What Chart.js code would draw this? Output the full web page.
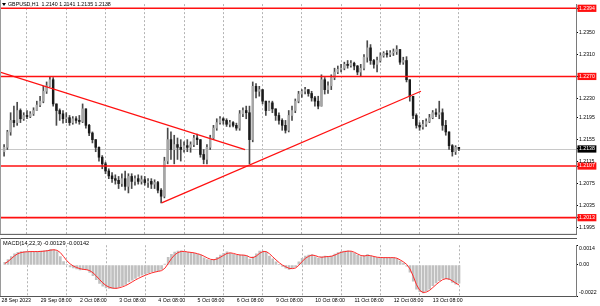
<!DOCTYPE html>
<html><head><meta charset="utf-8">
<script src="https://cdn.jsdelivr.net/npm/chart.js@4.4.0/dist/chart.umd.min.js"></script>
<style>
html,body{margin:0;padding:0;background:#fff;}
#wrap{position:relative;width:600px;height:306px;overflow:hidden;background:#fff;}
canvas{position:absolute;left:0;}
#main{top:0;}
#macd{top:238px;}
</style></head><body>
<div id="wrap"><canvas id="main" width="600" height="238"></canvas><canvas id="macd" width="600" height="68"></canvas></div>
<script>
// ---------- data ----------
const symbolTitle = 'GBPUSD,H1  1.2140 1.2141 1.2135 1.2138';
const macdTitle = 'MACD(14,22,3) -0.00129 -0.00142';
const firstBarHour = -14;   // trading hours since 29 Sep 00:00 (centre of first 2h bar)
const barStepHours = 2;

const opens = [1.2133,1.2141,1.2169,1.2190,1.2186,1.2208,1.2193,1.2199,1.2197,1.2202,
1.2208,1.2218,1.2225,1.2243,1.2253,1.2264,1.2220,1.2208,1.2202,1.2193,
1.2195,1.2186,1.2193,1.2190,1.2188,1.2211,1.2181,1.2167,1.2155,1.2141,
1.2123,1.2111,1.2098,1.2089,1.2084,1.2081,1.2075,1.2084,1.2070,1.2088,
1.2079,1.2084,1.2079,1.2082,1.2077,1.2079,1.2074,1.2077,1.2063,1.2052,
1.2116,1.2155,1.2137,1.2146,1.2141,1.2137,1.2144,1.2141,1.2146,1.2158,
1.2155,1.2128,1.2119,1.2141,1.2158,1.2176,1.2186,1.2193,1.2190,1.2183,
1.2186,1.2181,1.2176,1.2202,1.2208,1.2204,1.2155,1.2252,1.2243,1.2246,
1.2225,1.2208,1.2222,1.2211,1.2199,1.2190,1.2181,1.2172,1.2199,1.2208,
1.2225,1.2238,1.2243,1.2246,1.2239,1.2231,1.2225,1.2216,1.2264,1.2246,
1.2253,1.2268,1.2278,1.2283,1.2285,1.2292,1.2290,1.2294,1.2289,1.2278,
1.2285,1.2305,1.2322,1.2299,1.2292,1.2299,1.2308,1.2312,1.2310,1.2313,
1.2315,1.2319,1.2296,1.2299,1.2264,1.2234,1.2199,1.2181,1.2178,1.2183,
1.2188,1.2195,1.2204,1.2201,1.2204,1.2181,1.2169,1.2144,1.2133,1.2141];

const highs = [1.2146,1.2172,1.2204,1.2216,1.2223,1.2211,1.2204,1.2208,1.2206,1.2213,
1.2225,1.2234,1.2252,1.2260,1.2269,1.2268,1.2220,1.2211,1.2208,1.2204,
1.2199,1.2197,1.2197,1.2199,1.2220,1.2211,1.2183,1.2169,1.2155,1.2142,
1.2126,1.2114,1.2102,1.2095,1.2091,1.2088,1.2093,1.2098,1.2093,1.2093,
1.2089,1.2091,1.2089,1.2088,1.2084,1.2084,1.2082,1.2079,1.2066,1.2123,
1.2176,1.2169,1.2163,1.2158,1.2155,1.2151,1.2155,1.2151,1.2163,1.2165,
1.2155,1.2137,1.2146,1.2163,1.2181,1.2193,1.2197,1.2195,1.2193,1.2190,
1.2188,1.2185,1.2208,1.2213,1.2216,1.2216,1.2260,1.2257,1.2252,1.2246,
1.2225,1.2225,1.2225,1.2211,1.2204,1.2193,1.2190,1.2208,1.2216,1.2229,
1.2243,1.2246,1.2250,1.2246,1.2243,1.2234,1.2234,1.2273,1.2268,1.2260,
1.2273,1.2285,1.2289,1.2292,1.2296,1.2299,1.2299,1.2296,1.2290,1.2292,
1.2310,1.2335,1.2328,1.2301,1.2305,1.2313,1.2315,1.2317,1.2317,1.2320,
1.2326,1.2319,1.2305,1.2306,1.2264,1.2234,1.2202,1.2186,1.2190,1.2193,
1.2201,1.2208,1.2211,1.2225,1.2211,1.2190,1.2169,1.2146,1.2144,1.2141];

const lows = [1.2125,1.2137,1.2163,1.2178,1.2181,1.2186,1.2190,1.2193,1.2195,1.2199,
1.2208,1.2215,1.2222,1.2239,1.2252,1.2216,1.2181,1.2190,1.2185,1.2186,
1.2181,1.2183,1.2185,1.2183,1.2186,1.2176,1.2162,1.2149,1.2133,1.2116,
1.2102,1.2093,1.2084,1.2077,1.2074,1.2066,1.2070,1.2063,1.2058,1.2066,
1.2072,1.2074,1.2074,1.2072,1.2068,1.2066,1.2066,1.2058,1.2040,1.2049,
1.2111,1.2119,1.2111,1.2119,1.2116,1.2132,1.2133,1.2132,1.2142,1.2146,
1.2123,1.2111,1.2111,1.2137,1.2155,1.2172,1.2183,1.2183,1.2179,1.2178,
1.2178,1.2172,1.2172,1.2197,1.2193,1.2111,1.2151,1.2231,1.2234,1.2220,
1.2199,1.2208,1.2204,1.2190,1.2183,1.2172,1.2167,1.2169,1.2190,1.2204,
1.2222,1.2232,1.2238,1.2234,1.2225,1.2216,1.2211,1.2216,1.2238,1.2239,
1.2246,1.2264,1.2275,1.2278,1.2282,1.2285,1.2287,1.2282,1.2273,1.2271,
1.2282,1.2296,1.2292,1.2285,1.2278,1.2296,1.2305,1.2305,1.2306,1.2308,
1.2310,1.2292,1.2292,1.2260,1.2225,1.2193,1.2176,1.2172,1.2174,1.2179,
1.2186,1.2193,1.2197,1.2193,1.2172,1.2163,1.2137,1.2125,1.2128,1.2135];

const closes = [1.2141,1.2169,1.2190,1.2186,1.2208,1.2193,1.2199,1.2197,1.2202,1.2208,
1.2218,1.2225,1.2243,1.2253,1.2264,1.2220,1.2208,1.2202,1.2193,1.2195,
1.2186,1.2193,1.2190,1.2188,1.2211,1.2181,1.2167,1.2155,1.2141,1.2123,
1.2111,1.2098,1.2089,1.2084,1.2081,1.2075,1.2084,1.2070,1.2088,1.2079,
1.2084,1.2079,1.2082,1.2077,1.2079,1.2074,1.2077,1.2063,1.2052,1.2116,
1.2155,1.2137,1.2146,1.2141,1.2137,1.2144,1.2141,1.2146,1.2158,1.2155,
1.2128,1.2119,1.2141,1.2158,1.2176,1.2186,1.2193,1.2190,1.2183,1.2186,
1.2181,1.2176,1.2202,1.2208,1.2204,1.2155,1.2252,1.2243,1.2246,1.2225,
1.2208,1.2222,1.2211,1.2199,1.2190,1.2181,1.2172,1.2199,1.2208,1.2225,
1.2238,1.2243,1.2246,1.2239,1.2231,1.2225,1.2216,1.2264,1.2246,1.2253,
1.2268,1.2278,1.2283,1.2285,1.2292,1.2290,1.2294,1.2289,1.2278,1.2285,
1.2305,1.2322,1.2299,1.2292,1.2299,1.2308,1.2312,1.2310,1.2313,1.2315,
1.2319,1.2296,1.2299,1.2264,1.2234,1.2199,1.2181,1.2178,1.2183,1.2188,
1.2195,1.2204,1.2201,1.2204,1.2181,1.2169,1.2144,1.2133,1.2141,1.2138];

const macdMain = [0.00019,0.00038,0.00060,0.00079,0.00090,0.00095,0.00095,0.00095,0.00095,0.00095,
0.00096,0.00098,0.00101,0.00104,0.00111,0.00109,0.00095,0.00060,0.00025,0.00003,
-0.00013,-0.00020,-0.00028,-0.00035,-0.00033,-0.00035,-0.00052,-0.00076,-0.00104,-0.00130,
-0.00150,-0.00163,-0.00166,-0.00166,-0.00166,-0.00155,-0.00147,-0.00137,-0.00121,-0.00107,
-0.00095,-0.00082,-0.00073,-0.00063,-0.00056,-0.00049,-0.00046,-0.00042,-0.00032,0.00006,
0.00054,0.00076,0.00092,0.00098,0.00101,0.00092,0.00089,0.00088,0.00082,0.00076,
0.00068,0.00051,0.00038,0.00033,0.00038,0.00054,0.00070,0.00082,0.00094,0.00085,
0.00076,0.00070,0.00070,0.00070,0.00063,0.00041,0.00057,0.00079,0.00098,0.00099,
0.00092,0.00063,0.00044,0.00022,0.00003,-0.00011,-0.00022,-0.00032,-0.00023,-0.00014,
0.00022,0.00047,0.00063,0.00070,0.00073,0.00060,0.00049,0.00057,0.00064,0.00061,
0.00063,0.00078,0.00088,0.00095,0.00098,0.00101,0.00095,0.00083,0.00070,0.00060,
0.00066,0.00073,0.00063,0.00056,0.00052,0.00052,0.00052,0.00052,0.00052,0.00052,
0.00044,0.00028,0.00013,-0.00009,-0.00051,-0.00114,-0.00171,-0.00190,-0.00199,-0.00184,
-0.00171,-0.00146,-0.00127,-0.00111,-0.00095,-0.00097,-0.00104,-0.00123,-0.00136,-0.00129];

const macdSignal = [0.00010,0.00025,0.00045,0.00065,0.00080,0.00088,0.00092,0.00094,0.00095,0.00095,
0.00095,0.00096,0.00098,0.00101,0.00105,0.00108,0.00104,0.00088,0.00060,0.00030,
0.00008,-0.00008,-0.00018,-0.00026,-0.00031,-0.00033,-0.00040,-0.00055,-0.00078,-0.00103,
-0.00127,-0.00146,-0.00158,-0.00164,-0.00166,-0.00162,-0.00155,-0.00146,-0.00134,-0.00120,
-0.00106,-0.00094,-0.00083,-0.00073,-0.00064,-0.00056,-0.00050,-0.00045,-0.00040,-0.00023,
0.00010,0.00045,0.00072,0.00088,0.00096,0.00096,0.00092,0.00089,0.00086,0.00080,
0.00073,0.00062,0.00050,0.00040,0.00037,0.00043,0.00055,0.00069,0.00082,0.00086,
0.00082,0.00075,0.00071,0.00070,0.00067,0.00055,0.00052,0.00064,0.00083,0.00095,
0.00095,0.00080,0.00058,0.00036,0.00016,-0.00001,-0.00013,-0.00024,-0.00026,-0.00021,
-0.00002,0.00025,0.00047,0.00062,0.00070,0.00067,0.00058,0.00055,0.00058,0.00060,
0.00062,0.00070,0.00081,0.00090,0.00095,0.00098,0.00098,0.00090,0.00078,0.00067,
0.00064,0.00068,0.00066,0.00060,0.00055,0.00053,0.00052,0.00052,0.00052,0.00052,
0.00048,0.00036,0.00022,0.00004,-0.00028,-0.00080,-0.00140,-0.00180,-0.00195,-0.00192,
-0.00180,-0.00160,-0.00139,-0.00120,-0.00104,-0.00097,-0.00100,-0.00113,-0.00128,-0.00142];

const priceTicks = [1.1995,1.2013,1.2035,1.2075,1.2107,1.2115,1.2138,1.2155,1.2195,1.2230,1.2270,1.2310,1.2350,1.2394];
const levelPrices = [1.2394,1.2270,1.2107,1.2013];
const currentPrice = 1.2138;
const macdTicks = [-0.0022,0,0.0014];
const macdTickLabels = ['-0.0022','0.00','0.0014'];

const timeTickHours = [-16,8,32,56,80,104,128,152,176,200,224,248];
const timeTickLabels = ['28 Sep 2023','29 Sep 08:00','2 Oct 08:00','3 Oct 08:00','4 Oct 08:00','5 Oct 08:00',
  '6 Oct 08:00','9 Oct 08:00','10 Oct 08:00','11 Oct 08:00','12 Oct 08:00','13 Oct 08:00'];
const dayStartHours = [0,24,48,72,96,120,144,168,192,216,240,264];

const trendDown = [{x:-16.5,y:1.2278},{x:133.3,y:1.2137}];
const trendUp = [{x:82.3,y:1.2040},{x:240.8,y:1.2243}];

// ---------- config ----------
const hourMin = -16.5, hourMax = 335.6;
const priceMin = 1.19835, priceMax = 1.24016;
const macdMin = -0.0022, macdMax = 0.0014;
const FONT = {family:'"Liberation Sans", Arial, sans-serif', size:5.2};
Chart.defaults.font.family = FONT.family;
Chart.defaults.font.size = FONT.size;
Chart.defaults.color = '#000';

const hours = opens.map((_, i) => firstBarHour + barStepHours * i);
const wickData = hours.map((h, i) => ({x:h, y:[lows[i], highs[i]]}));
const bodyData = hours.map((h, i) => ({x:h, y:[opens[i], closes[i]]}));
const histData = hours.map((h, i) => ({x:h, y:macdMain[i]}));
const signalData = hours.map((h, i) => ({x:h, y:macdSignal[i]}));

function gridAxis() {
  return {type:'linear', position:'bottom', min:hourMin, max:hourMax, offset:false,
    afterBuildTicks: s => { s.ticks = dayStartHours.map(v => ({value:v})); },
    ticks:{display:false},
    grid:{display:true, offset:false, drawTicks:false, color:'#b4b4b4', lineWidth:1},
    border:{display:false, dash:[2,2]}};
}

const mainPlugin = {
  id:'mainDeco',
  beforeDatasetsDraw(chart) {
    const {ctx, chartArea:a, scales:{y}} = chart;
    ctx.save();
    ctx.strokeStyle = '#c8c8c8'; ctx.lineWidth = 1;
    const yy = Math.round(y.getPixelForValue(currentPrice)) + 0.5;
    ctx.beginPath(); ctx.moveTo(a.left, yy); ctx.lineTo(a.right, yy); ctx.stroke();
    ctx.restore();
  },
  afterDatasetsDraw(chart) {
    const {ctx, chartArea:a, scales:{y}} = chart;
    ctx.save();
    ctx.strokeStyle = '#ff1010'; ctx.lineWidth = 1.6;
    levelPrices.forEach(p => {
      const yy = y.getPixelForValue(p);
      ctx.beginPath(); ctx.moveTo(a.left, yy); ctx.lineTo(a.right, yy); ctx.stroke();
    });
    ctx.fillStyle = '#9a9a9a'; ctx.fillRect(0, 0, 1, a.bottom);
    ctx.fillStyle = '#555'; ctx.fillRect(0, a.bottom, a.right + 1, 1);
    ctx.fillStyle = '#000';
    ctx.beginPath(); ctx.moveTo(2, 3); ctx.lineTo(6, 3); ctx.lineTo(4, 6); ctx.closePath(); ctx.fill();
    ctx.font = '5.3px ' + FONT.family; ctx.textBaseline = 'middle'; ctx.textAlign = 'left';
    ctx.fillText(symbolTitle, 8, 4.6);
    ctx.restore();
  }
};

new Chart(document.getElementById('main'), {
  type:'bar',
  data:{datasets:[
    {type:'line', data:trendDown, borderColor:'#ff1010', borderWidth:1.3, pointRadius:0, order:0},
    {type:'line', data:trendUp, borderColor:'#ff1010', borderWidth:1.3, pointRadius:0, order:0},
    {data:bodyData, grouped:false, barThickness:1.8, minBarLength:1, order:1,
      backgroundColor: c => closes[c.dataIndex] >= opens[c.dataIndex] ? '#a6a6a6' : '#1a1a1a'},
    {data:wickData, grouped:false, barThickness:1, order:2, backgroundColor:'#4a4a4a'}
  ]},
  options:{
    responsive:false, animation:false, events:[],
    layout:{autoPadding:false, padding:{top:0, bottom:1, left:0, right:0}},
    plugins:{legend:{display:false}, tooltip:{enabled:false}},
    scales:{
      x:{type:'linear', display:false, min:hourMin, max:hourMax, offset:false, grid:{offset:false}},
      xg:gridAxis(),
      y:{type:'linear', position:'right', min:priceMin, max:priceMax,
        afterFit: s => { s.width = 24; },
        afterBuildTicks: s => { s.ticks = priceTicks.map(v => ({value:v})); },
        grid:{drawOnChartArea:false, drawTicks:true, tickLength:2, color:'#000'},
        border:{display:true, color:'#7a7a7a', width:1},
        ticks:{autoSkip:false, padding:1, font:FONT,
          callback: v => Number(v).toFixed(4),
          color: c => (levelPrices.includes(c.tick.value) || c.tick.value === currentPrice) ? '#fff' : '#000',
          showLabelBackdrop: c => levelPrices.includes(c.tick.value) || c.tick.value === currentPrice,
          backdropColor: c => c.tick.value === currentPrice ? '#000' : '#ff1010',
          backdropPadding:{left:1.5, right:1.5, top:0.5, bottom:0.5}}
      }
    }
  },
  plugins:[mainPlugin]
});

const macdPlugin = {
  id:'macdDeco',
  afterDatasetsDraw(chart) {
    const {ctx, chartArea:a} = chart;
    ctx.save();
    ctx.fillStyle = '#555'; ctx.fillRect(0, 0, a.right + 1, 1);
    ctx.fillStyle = '#9a9a9a'; ctx.fillRect(0, 0, 1, a.bottom);
    ctx.fillStyle = '#000';
    ctx.font = '5.6px ' + FONT.family; ctx.textBaseline = 'middle'; ctx.textAlign = 'left';
    ctx.fillText(macdTitle, 3, 5.3);
    ctx.restore();
  }
};

new Chart(document.getElementById('macd'), {
  type:'bar',
  data:{datasets:[
    {type:'line', data:signalData, borderColor:'#ff2a2a', borderWidth:1, pointRadius:0, order:0},
    {data:histData, grouped:false, barThickness:2, order:1, backgroundColor:'#c0c0c0'}
  ]},
  options:{
    responsive:false, animation:false, events:[],
    layout:{autoPadding:false, padding:{top:1, bottom:0, left:0, right:0}},
    plugins:{legend:{display:false}, tooltip:{enabled:false}},
    scales:{
      x:{type:'linear', position:'bottom', min:hourMin, max:hourMax, offset:false,
        afterFit: s => { s.height = 10; },
        afterBuildTicks: s => { s.ticks = timeTickHours.map(v => ({value:v})); },
        grid:{display:false, drawTicks:false, offset:false},
        border:{display:true, color:'#555', width:1},
        ticks:{autoSkip:false, maxRotation:0, align:'start', padding:1.5, font:FONT,
          callback: (v, i) => timeTickLabels[i]}},
      xg:gridAxis(),
      y:{type:'linear', position:'right', min:macdMin, max:macdMax,
        afterFit: s => { s.width = 24; },
        afterBuildTicks: s => { s.ticks = macdTicks.map(v => ({value:v})); },
        grid:{drawOnChartArea:false, drawTicks:true, tickLength:2, color:'#000'},
        border:{display:true, color:'#7a7a7a', width:1},
        ticks:{autoSkip:false, padding:1, font:FONT,
          callback: (v, i) => i === macdTicks.length - 1 ? ['', macdTickLabels[i]]
                              : (i === 0 ? [macdTickLabels[i], ''] : macdTickLabels[i])}
      }
    }
  },
  plugins:[macdPlugin]
});
</script>
</body></html>
